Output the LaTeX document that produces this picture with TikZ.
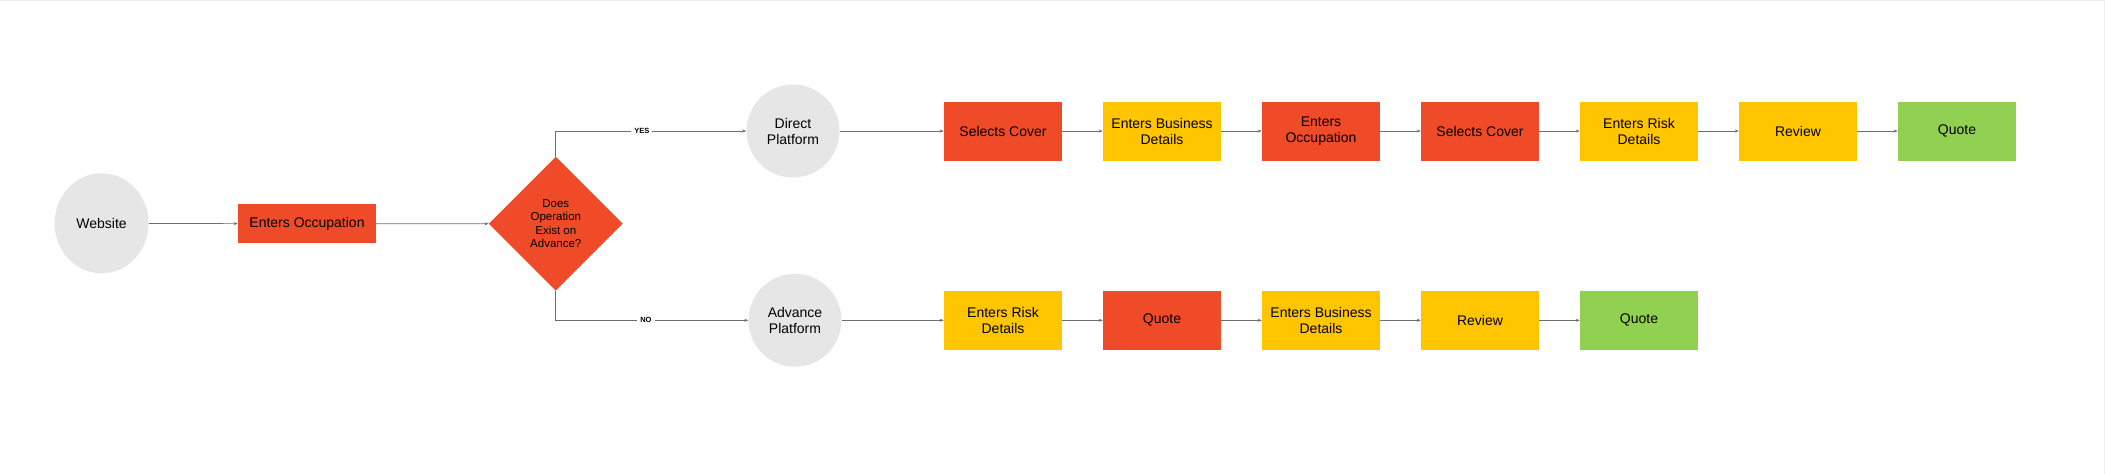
\documentclass[tikz,border=0pt]{standalone}
\usepackage{fontspec}
\setmainfont{Liberation Sans}
\usetikzlibrary{shapes.geometric,arrows.meta}
\definecolor{redbox}{RGB}{240,75,40}
\definecolor{yelbox}{RGB}{255,198,0}
\definecolor{grnbox}{RGB}{145,208,80}
\definecolor{greyc}{RGB}{230,230,230}
\definecolor{linec}{RGB}{110,110,110}
\tikzset{
  every node/.style={font=\fontsize{14}{16}\selectfont, text=black, align=center, inner sep=0pt},
  stepbox/.style={rectangle, minimum width=118pt, minimum height=59pt},
  redb/.style={stepbox, fill=redbox},
  yelb/.style={stepbox, fill=yelbox},
  grnb/.style={stepbox, fill=grnbox},
  platform/.style={circle, fill=greyc, minimum size=93pt},
  conn/.style={draw=linec, line width=0.7pt, -{Stealth[length=4pt,width=3pt]}},
  lbl/.style={fill=white, inner xsep=3pt, inner ysep=1.5pt, font=\fontsize{7.5}{9}\selectfont\bfseries}
}
\begin{document}
\begin{tikzpicture}[x=1pt,y=-1pt]
\useasboundingbox (0,0) rectangle (2105,474);
\draw[gray!12, line width=1pt] (0,0.5) -- (2105,0.5);
\draw[gray!12, line width=1pt] (2104.5,0) -- (2104.5,474);

\node[ellipse, fill=greyc, minimum width=94pt, minimum height=100pt] (web) at (101.6,223.3) {Website};
\node[rectangle, fill=redbox, minimum width=138pt, minimum height=39pt] (eo) at (307,223.8) {Enters Occupation};
\node[diamond, fill=redbox, minimum width=134pt, minimum height=134pt, aspect=1, font=\fontsize{11.5}{13.3}\selectfont] (d) at (555.8,223.7) {Does\\Operation\\Exist on\\Advance?};

\node[platform] (dp) at (793,131) {Direct\\Platform};
\node[platform] (ap) at (795,320.3) {Advance\\Platform};

\node[redb] (t1) at (1003,131) {Selects Cover};
\node[yelb] (t2) at (1162,131) {Enters Business\\Details};
\node[redb] (t3) at (1321,131) {Enters\\Occupation};
\node[redb] (t4) at (1480,131) {Selects Cover};
\node[yelb] (t5) at (1639,131) {Enters Risk\\Details};
\node[yelb] (t6) at (1798,131) {Review};
\node[grnb] (t7) at (1957,131) {Quote};

\node[yelb] (b1) at (1003,320.3) {Enters Risk\\Details};
\node[redb] (b2) at (1162,320.3) {Quote};
\node[yelb] (b3) at (1321,320.3) {Enters Business\\Details};
\node[yelb] (b4) at (1480,320.3) {Review};
\node[grnb] (b5) at (1639,320.3) {Quote};

\draw[conn] (web) -- (eo);
\draw[conn] (eo) -- (d);
\draw[conn] (d.north) |- node[lbl, pos=0.726] (yes) {YES} (dp.west);
\draw[conn] (d.south) |- node[lbl, pos=0.734] (no) {NO} (ap.west);

\draw[conn] (dp) -- (t1);
\draw[conn] (t1) -- (t2);
\draw[conn] (t2) -- (t3);
\draw[conn] (t3) -- (t4);
\draw[conn] (t4) -- (t5);
\draw[conn] (t5) -- (t6);
\draw[conn] (t6) -- (t7);

\draw[conn] (ap) -- (b1);
\draw[conn] (b1) -- (b2);
\draw[conn] (b2) -- (b3);
\draw[conn] (b3) -- (b4);
\draw[conn] (b4) -- (b5);
\end{tikzpicture}
\end{document}
